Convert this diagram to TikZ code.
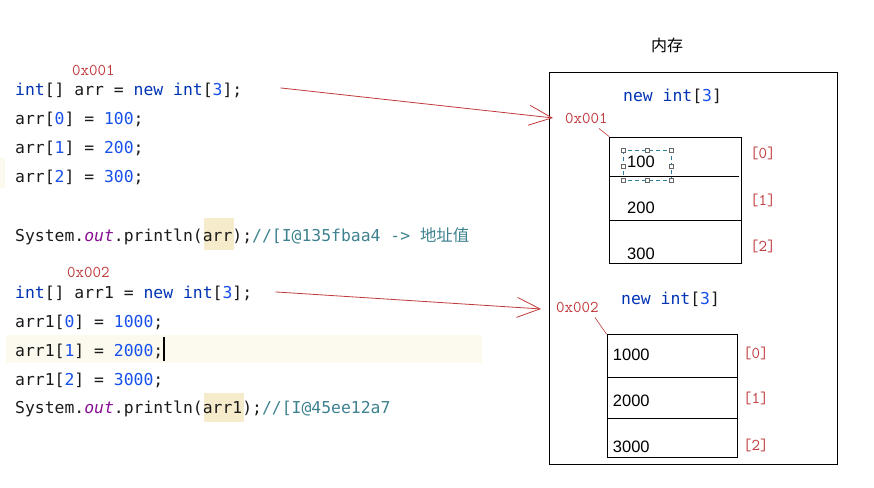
\documentclass[tikz,border=0pt]{standalone}
\usepackage{fontspec}
\newfontfamily\codefam{DejaVu Sans Mono}
\newfontfamily\valfam{Liberation Sans}
\newfontfamily\cjk{Noto Sans CJK SC}
\usetikzlibrary{arrows.meta}
\definecolor{codeink}{HTML}{1A1A1A}
\definecolor{kwblue}{HTML}{0033B3}
\definecolor{numblue}{HTML}{1750EB}
\definecolor{outpurple}{HTML}{871094}
\definecolor{cmtteal}{HTML}{3E8290}
\definecolor{addrred}{HTML}{C0393B}
\definecolor{linecream}{HTML}{FCFAEE}
\definecolor{usetan}{HTML}{F6ECCB}
\definecolor{selteal}{HTML}{2E7E9E}
\newcommand\kw[1]{\textcolor{kwblue}{#1}}
\newcommand\nm[1]{\textcolor{numblue}{#1}}

\begin{document}
\begin{tikzpicture}[x=1pt,y=-1pt,
    code/.style={anchor=base west,inner sep=0pt,text=codeink,font=\codefam\fontsize{16.4}{20}\selectfont},
    addr/.style={anchor=base west,inner sep=0pt,text=addrred,font=\ttfamily\fontsize{16.5}{19}\selectfont},
    idx/.style={addr,font=\ttfamily\fontsize{16.5}{19}\selectfont},
    val/.style={anchor=base west,inner sep=0pt,font=\valfam\fontsize{16.5}{19}\selectfont},
    cellbox/.style={draw,line width=1pt,inner sep=0pt,anchor=north west},
    ptr/.style={draw=addrred,line width=.8pt,-{Straight Barb[length=23pt,width=20pt]}},
    lead/.style={draw=addrred,line width=.6pt}]
  \useasboundingbox (0,0) rectangle (874,487);

  % editor backgrounds
  \fill[linecream] (0,158) rectangle (5,188);
  \fill[linecream] (6,335) rectangle (482,363);
  \fill[usetan] (204,218) rectangle (234,250);
  \fill[usetan] (204,393) rectangle (244,422);

  % code, first array
  \node[addr] (refA) at (72,75) {0x001};
  \node[code] (c1) at (15,95) {\kw{int}[] arr = \kw{new} \kw{int}[\nm{3}];};
  \node[code] (c2) at (15,124) {arr[\nm{0}] = \nm{100};};
  \node[code] (c3) at (15,153) {arr[\nm{1}] = \nm{200};};
  \node[code] (c4) at (15,182) {arr[\nm{2}] = \nm{300};};
  \node[code] (c5) at (15,241) {System.\textcolor{outpurple}{\itshape out}.println(arr);\textcolor{cmtteal}{//[I@135fbaa4 -> {\cjk 地址值}}};

  % code, second array
  \node[addr] (refB) at (67,277) {0x002};
  \node[code] (c6) at (15,298) {\kw{int}[] arr1 = \kw{new} \kw{int}[\nm{3}];};
  \node[code] (c7) at (15,327) {arr1[\nm{0}] = \nm{1000};};
  \node[code] (c8) at (15,356) {arr1[\nm{1}] = \nm{2000};};
  \node[code] (c9) at (15,385) {arr1[\nm{2}] = \nm{3000};};
  \node[code] (c10) at (15,413) {System.\textcolor{outpurple}{\itshape out}.println(arr1);\textcolor{cmtteal}{//[I@45ee12a7}};
  \draw[line width=2pt] (164,337) -- (164,361);

  % memory
  \node[anchor=base,inner sep=0pt,font=\cjk\fontsize{16}{18}\selectfont] (memtitle) at (667,52) {内存};
  \node[cellbox,minimum width=288pt,minimum height=392pt] (mem) at (549,72) {};

  \node[code] (newA) at (623,101) {\kw{new} \kw{int}[\nm{3}]};
  \node[addr] (addrA) at (565,123) {0x001};
  \node[cellbox,minimum width=132pt,minimum height=126.5pt] (arrA) at (609.3,136.7) {};
  \draw[line width=1pt] (609.3,176) -- (739,176);
  \draw[line width=1pt] (609.3,220.7) -- (741.3,220.7);
  \node[val] (vA0) at (627,167) {100};
  \node[val] (vA1) at (627,213) {200};
  \node[val] (vA2) at (627,259) {300};
  \node[idx] (iA0) at (750,158) {[0]};
  \node[idx] (iA1) at (750,205) {[1]};
  \node[idx] (iA2) at (750,251) {[2]};
  % selection frame round 100
  \draw[selteal,line width=.7pt,dash pattern=on 4pt off 3pt] (623,150) rectangle (671,180);
  \foreach \hx/\hy in {623/150,647/150,671/150,623/166,671/166,623/180,647/180,671/180}
    \draw[draw=black!60,fill=white,line width=.6pt] (\hx-2,\hy-2) rectangle (\hx+2,\hy+2);

  \node[code] (newB) at (621,304) {\kw{new} \kw{int}[\nm{3}]};
  \node[addr] (addrB) at (556,312) {0x002};
  \node[cellbox,minimum width=130.6pt,minimum height=123pt] (arrB) at (606.7,334.3) {};
  \draw[line width=1pt] (606.7,377.3) -- (737.3,377.3);
  \draw[line width=1pt] (606.7,418.7) -- (737.3,418.7);
  \node[val] (vB0) at (612.7,360.7) {1000};
  \node[val] (vB1) at (612.7,406) {2000};
  \node[val] (vB2) at (612.7,452.7) {3000};
  \node[idx] (iB0) at (743,358) {[0]};
  \node[idx] (iB1) at (743,403) {[1]};
  \node[idx] (iB2) at (743,450) {[2]};

  % references
  \draw[ptr] ([xshift=38pt,yshift=2pt]c1.east) -- ([xshift=-12pt]addrA.west);
  \draw[ptr] ([xshift=23pt,yshift=1pt]c6.east) -- ([xshift=-15pt,yshift=-2pt]addrB.west);
  \draw[lead] ([xshift=-9pt,yshift=-5pt]addrA.south east) -- (arrA.north west);
  \draw[lead] ([xshift=-4pt,yshift=-5pt]addrB.south east) -- (arrB.north west);
\end{tikzpicture}
\end{document}
